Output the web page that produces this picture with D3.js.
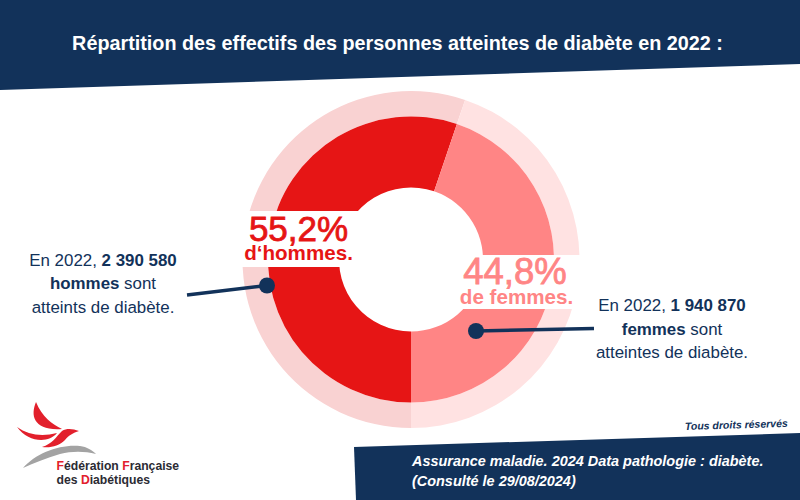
<!DOCTYPE html>
<html>
<head>
<meta charset="utf-8">
<script src="https://cdn.jsdelivr.net/npm/d3@7"></script>
<style>
html, body { margin: 0; padding: 0; background: #fff; }
svg { display: block; }
text { font-family: "Liberation Sans", Arial, sans-serif; }
</style>
</head>
<body>
<div id="chart"></div>
<script>
var categories = ["hommes", "femmes"];
var percents = [55.2, 44.8];
var innerColors = ["#e61515", "#ff8585"];
var outerColors = ["#f9d2d2", "#ffe2e2"];

var titleText = "Répartition des effectifs des personnes atteintes de diabète en 2022 :";
var menNote = [["En 2022, ", "2 390 580"], ["hommes", " sont"], ["atteints de diabète."]];
var womenNote = [["En 2022, ", "1 940 870"], ["femmes", " sont"], ["atteintes de diabète."]];
var sourceLines = ["Assurance maladie. 2024 Data pathologie : diabète.", "(Consulté le 29/08/2024)"];

var navy = "#12325a";
var width = 800, height = 500;
var cx = 411, cy = 259.5;

var svg = d3.select("#chart").append("svg")
    .attr("width", width)
    .attr("height", height);

// bandeaux
svg.append("path").attr("d", "M0,0H800V64L0,90Z").attr("fill", navy);
svg.append("path").attr("d", "M354,447L800,433V500H356Z").attr("fill", navy);

svg.append("text")
    .attr("x", 397.5).attr("y", 50)
    .attr("text-anchor", "middle")
    .attr("font-size", 19.8)
    .attr("font-weight", "bold")
    .attr("fill", "#fff")
    .text(titleText);

// anneaux
var pie = d3.pie()
    .sort(null)
    .startAngle(Math.PI)
    .endAngle(3 * Math.PI);

var arcInner = d3.arc().innerRadius(72).outerRadius(143);
var arcOuter = d3.arc().innerRadius(143).outerRadius(168.5);

var g = svg.append("g")
    .attr("transform", "translate(" + cx + "," + cy + ")");

g.selectAll(".outer")
    .data(pie(percents))
    .enter().append("path")
    .attr("class", "outer")
    .attr("d", arcOuter)
    .attr("fill", function(d, i) { return outerColors[i]; });

g.selectAll(".inner")
    .data(pie(percents))
    .enter().append("path")
    .attr("class", "inner")
    .attr("d", arcInner)
    .attr("fill", function(d, i) { return innerColors[i]; });

// fonds blancs des pourcentages
svg.append("rect").attr("x", 236).attr("y", 211).attr("width", 124).attr("height", 56).attr("fill", "#fff");
svg.append("rect").attr("x", 460).attr("y", 255).attr("width", 125).attr("height", 54).attr("fill", "#fff");

function fmt(v) { return String(v).replace(".", ",") + "%"; }

svg.append("text")
    .attr("x", 298.5).attr("y", 240.5)
    .attr("text-anchor", "middle")
    .attr("font-size", 35)
    .attr("fill", innerColors[0])
    .attr("stroke", innerColors[0]).attr("stroke-width", 0.8)
    .text(fmt(percents[0]));
svg.append("text")
    .attr("x", 298.5).attr("y", 260)
    .attr("text-anchor", "middle")
    .attr("font-size", 20.6)
    .attr("font-weight", "bold")
    .attr("fill", innerColors[0])
    .text("d‘" + categories[0] + ".");

svg.append("text")
    .attr("x", 515).attr("y", 284)
    .attr("text-anchor", "middle")
    .attr("font-size", 36.5)
    .attr("fill", innerColors[1])
    .attr("stroke", innerColors[1]).attr("stroke-width", 0.8)
    .text(fmt(percents[1]));
svg.append("text")
    .attr("x", 516.5).attr("y", 303.5)
    .attr("text-anchor", "middle")
    .attr("font-size", 20.6)
    .attr("font-weight", "bold")
    .attr("fill", innerColors[1])
    .text("de " + categories[1] + ".");

// notes
function note(lines, x, y0) {
    lines.forEach(function(parts, i) {
        var t = svg.append("text")
            .attr("x", x).attr("y", y0 + i * 23.5)
            .attr("text-anchor", "middle")
            .attr("font-size", 16.9)
            .attr("fill", navy);
        parts.forEach(function(p) {
            var bold = /^[0-9]/.test(p) || p == "hommes" || p == "femmes";
            t.append("tspan")
                .attr("font-weight", bold ? "bold" : "normal")
                .text(p);
        });
    });
}
note(menNote, 103, 265.5);
note(womenNote, 672, 311);

// traits
svg.append("path").attr("d", "M187,295L267,285.5").attr("stroke", navy).attr("stroke-width", 3.5).attr("fill", "none");
svg.append("circle").attr("cx", 267).attr("cy", 285.5).attr("r", 8).attr("fill", navy);
svg.append("path").attr("d", "M476,331L594,328.5").attr("stroke", navy).attr("stroke-width", 3.5).attr("fill", "none");
svg.append("circle").attr("cx", 476).attr("cy", 331).attr("r", 8).attr("fill", navy);

// source
sourceLines.forEach(function(s, i) {
    svg.append("text")
        .attr("x", 412).attr("y", 465.5 + i * 20.5)
        .attr("font-size", 14.45)
        .attr("font-weight", "bold")
        .attr("font-style", "italic")
        .attr("fill", "#fff")
        .text(s);
});
svg.append("text")
    .attr("transform", "translate(685,430) rotate(-1.8)")
    .attr("font-size", 10.5)
    .attr("font-weight", "bold")
    .attr("font-style", "italic")
    .attr("fill", navy)
    .text("Tous droits réservés");

// logo
var logo = svg.append("g").attr("fill", "#e2202c");
logo.append("path").attr("d", "M36,402C30,416 34,431 62,429C52,424 42,417 36,402Z");
logo.append("path").attr("d", "M17,427C28,435 42,437 57,433C48,444 28,442 17,427Z");
logo.append("path").attr("d", "M42,447C52,444 56,437 62,431C67,428 73,429 79,431C73,433 69,435 65,440C59,446 51,448 42,447Z");
svg.append("path")
    .attr("d", "M23,468C36,453 60,444 80,446C87,447 92,450 96,454C84,451 72,451 60,454C46,458 34,463 23,468Z")
    .attr("fill", "#a3a3a3");

function logoLine(parts, x, y) {
    var t = svg.append("text")
        .attr("x", x).attr("y", y)
        .attr("font-size", 12.2)
        .attr("font-weight", "bold")
        .attr("fill", "#2b2b33");
    parts.forEach(function(p) {
        t.append("tspan")
            .attr("fill", p.length == 1 ? "#e2202c" : null)
            .text(p);
    });
}
logoLine(["F", "édération ", "F", "rançaise"], 56.5, 470);
logoLine(["des ", "D", "iabétiques"], 56.5, 484);
</script>
</body>
</html>
